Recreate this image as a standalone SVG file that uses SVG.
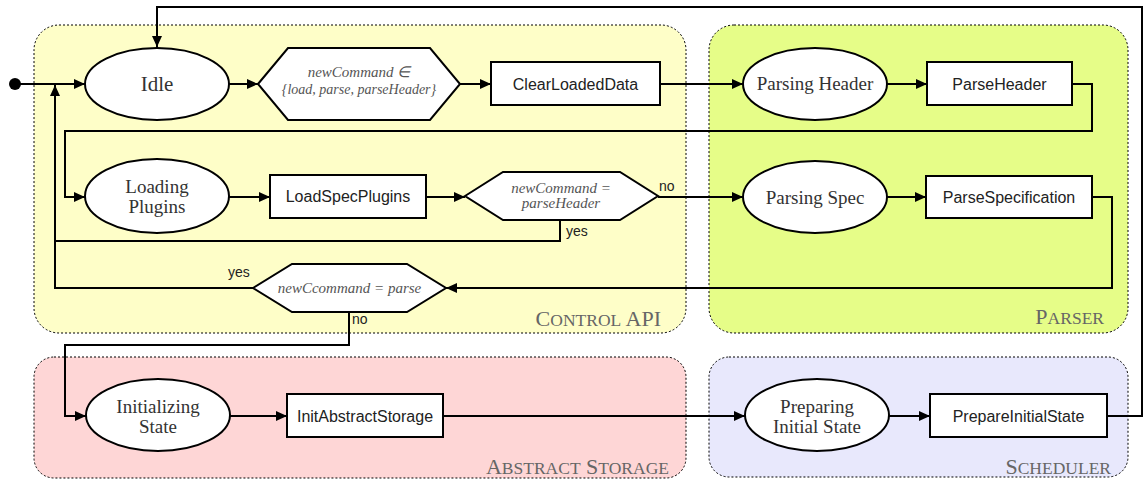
<svg xmlns="http://www.w3.org/2000/svg" width="1144" height="481" viewBox="0 0 1144 481">
<defs>
<marker id="ah" markerUnits="userSpaceOnUse" markerWidth="11" markerHeight="10" refX="11" refY="5" orient="auto"><path d="M0,0 L11,5 L0,10 z" fill="#000"/></marker>
<style>
.reg{stroke:#000;stroke-width:1;stroke-dasharray:2,2}
.nd{fill:#fff;stroke:#000;stroke-width:2}
.st{font-family:"Liberation Serif","Times New Roman",serif;font-size:19px;fill:#333;text-anchor:middle}
.act{font-family:"Liberation Sans",Arial,sans-serif;font-size:16px;fill:#222;text-anchor:middle}
.cond{font-family:"Liberation Serif","Times New Roman",serif;font-style:italic;font-size:15px;fill:#555;text-anchor:middle}
.lbl{font-family:"Liberation Sans",Arial,sans-serif;font-size:14px;fill:#222}
.rl{font-family:"Liberation Serif","Times New Roman",serif;font-size:22px;fill:#666;text-anchor:end}
.sc{font-size:17.5px}
.ln{fill:none;stroke:#000;stroke-width:2}
</style>
</defs>
<g id="regions">
<rect id="control-api" class="reg" x="34" y="25" width="652" height="308" rx="25" fill="#fefec8"/>
<rect id="parser" class="reg" x="709" y="25" width="419" height="308" rx="25" fill="#e6fd88"/>
<rect id="abstract-storage" class="reg" x="34" y="357" width="652" height="121" rx="20" fill="#fed6d6"/>
<rect id="scheduler" class="reg" x="709" y="357" width="419" height="120" rx="20" fill="#e8e8fc"/>
<text class="rl" x="661" y="326">C<tspan class="sc">ONTROL</tspan> API</text>
<text class="rl" x="1104" y="324">P<tspan class="sc">ARSER</tspan></text>
<text class="rl" x="669" y="474">A<tspan class="sc">BSTRACT</tspan> S<tspan class="sc">TORAGE</tspan></text>
<text class="rl" x="1111" y="474">S<tspan class="sc">CHEDULER</tspan></text>
</g>
<g id="connectors">
<circle cx="15" cy="84" r="6" fill="#000"/>
<path class="ln" d="M15,84 H85" marker-end="url(#ah)"/>
<path class="ln" d="M229,84 H258" marker-end="url(#ah)"/>
<path class="ln" d="M460,84 H491" marker-end="url(#ah)"/>
<path class="ln" d="M660,84 H743" marker-end="url(#ah)"/>
<path class="ln" d="M887,84 H927" stroke-width="3" marker-end="url(#ah)"/>
<path class="ln" d="M1072,84 H1092 V131 H65 V197 H85" marker-end="url(#ah)"/>
<path class="ln" d="M229,197 H270" marker-end="url(#ah)"/>
<path class="ln" d="M426,197 H465" marker-end="url(#ah)"/>
<path class="ln" d="M658,197 H743" marker-end="url(#ah)"/>
<path class="ln" d="M887,197 H926" marker-end="url(#ah)"/>
<path class="ln" d="M560,220 V241 H55"/>
<path class="ln" d="M253,288 H55 V85" marker-end="url(#ah)"/>
<path class="ln" d="M1092,197 H1112 V288 H446" marker-end="url(#ah)"/>
<path class="ln" d="M349,312 V345 H65 V416 H86" marker-end="url(#ah)"/>
<path class="ln" d="M230,416 H287" marker-end="url(#ah)"/>
<path class="ln" d="M443,416 H745" marker-end="url(#ah)"/>
<path class="ln" d="M889,416 H930" marker-end="url(#ah)"/>
<path class="ln" d="M1107,416 H1142 V7 H157 V47" marker-end="url(#ah)"/>
<text class="lbl" x="659" y="191">no</text>
<text class="lbl" x="566" y="236">yes</text>
<text class="lbl" x="228" y="277">yes</text>
<text class="lbl" x="352" y="324">no</text>
</g>
<g id="idle"><ellipse class="nd" cx="157" cy="84" rx="72" ry="36"/><text class="st" x="157" y="91" style="font-size:21px">Idle</text></g>
<g id="cond-command"><polygon class="nd" points="258,84 288,48 430,48 460,84 430,120 288,120"/><text class="cond" x="359" y="77">newCommand ∈</text><text class="cond" x="359" y="94" style="font-size:14px">{load, parse, parseHeader}</text></g>
<g id="clear-loaded-data"><rect class="nd" x="491" y="62" width="169" height="43"/><text class="act" x="575.5" y="90">ClearLoadedData</text></g>
<g id="parsing-header"><ellipse class="nd" cx="815" cy="84" rx="72" ry="36"/><text class="st" x="815" y="90">Parsing Header</text></g>
<g id="parse-header"><rect class="nd" x="927" y="62" width="145" height="43"/><text class="act" x="999.5" y="90">ParseHeader</text></g>
<g id="loading-plugins"><ellipse class="nd" cx="157" cy="196" rx="72" ry="37"/><text class="st" x="157" y="193">Loading</text><text class="st" x="157" y="213">Plugins</text></g>
<g id="load-spec-plugins"><rect class="nd" x="270" y="175" width="156" height="43"/><text class="act" x="348" y="202">LoadSpecPlugins</text></g>
<g id="cond-parse-header"><polygon class="nd" points="465,196 503,172 620,172 658,196 620,220 503,220"/><text class="cond" x="561" y="193">newCommand =</text><text class="cond" x="561" y="208">parseHeader</text></g>
<g id="parsing-spec"><ellipse class="nd" cx="815" cy="197" rx="72" ry="36"/><text class="st" x="815" y="204">Parsing Spec</text></g>
<g id="parse-specification"><rect class="nd" x="926" y="176" width="166" height="42"/><text class="act" x="1009" y="203">ParseSpecification</text></g>
<g id="cond-parse"><polygon class="nd" points="253,288 292,264 407,264 446,288 407,312 292,312"/><text class="cond" x="349.5" y="293">newCcommand = parse</text></g>
<g id="initializing-state"><ellipse class="nd" cx="158" cy="415" rx="72" ry="36"/><text class="st" x="158" y="413">Initializing</text><text class="st" x="158" y="433">State</text></g>
<g id="init-abstract-storage"><rect class="nd" x="287" y="394" width="156" height="43"/><text class="act" x="365" y="422">InitAbstractStorage</text></g>
<g id="preparing-initial-state"><ellipse class="nd" cx="817" cy="415" rx="72" ry="36"/><text class="st" x="817" y="413">Preparing</text><text class="st" x="817" y="433">Initial State</text></g>
<g id="prepare-initial-state"><rect class="nd" x="930" y="394" width="177" height="43"/><text class="act" x="1018.5" y="422">PrepareInitialState</text></g>
</svg>
